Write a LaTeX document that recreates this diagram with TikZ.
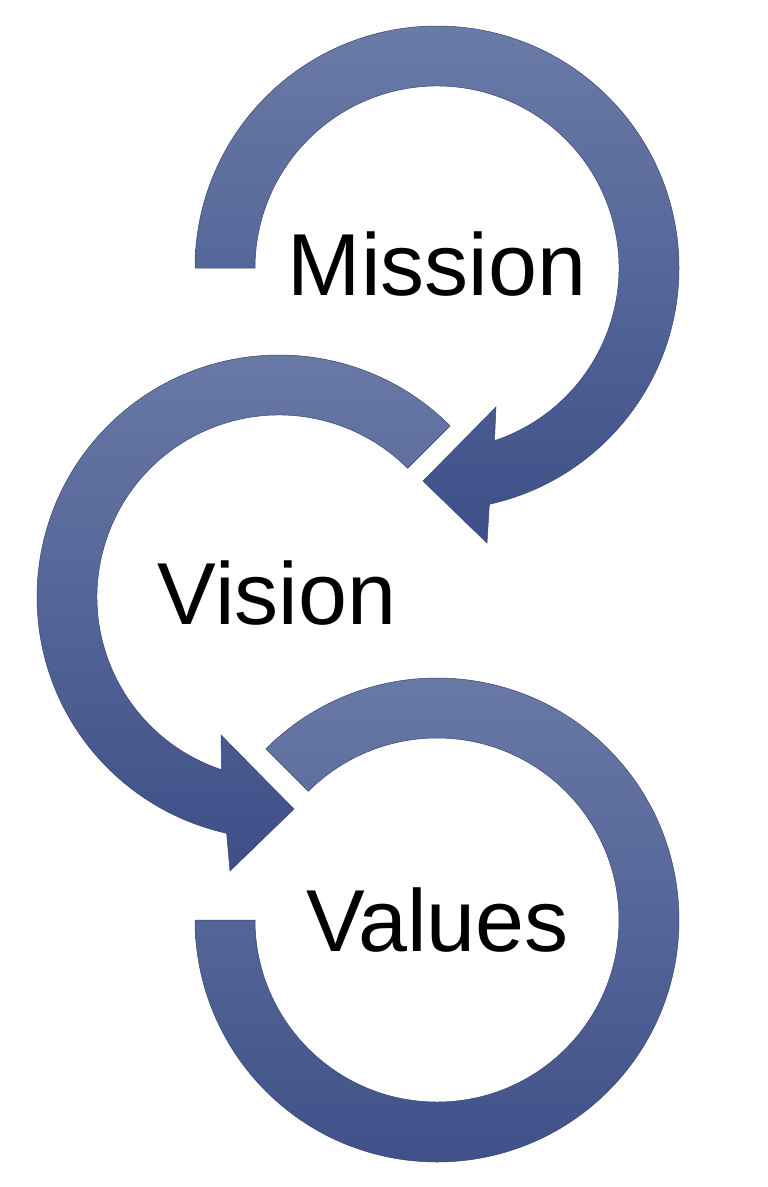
\documentclass[tikz,border=0pt]{standalone}
\usepackage{fontspec}
\setmainfont{Liberation Sans}
\usetikzlibrary{calc}
\definecolor{ringtop}{HTML}{6A7BA8}
\definecolor{ringbot}{HTML}{3E4F88}
\definecolor{ringedge}{HTML}{3A4670}
\begin{document}
\begin{tikzpicture}[x=1pt,y=1pt,
  ring/.style={top color=ringtop,bottom color=ringbot,draw=ringedge,line width=0.5pt,line join=miter},
  label/.style={anchor=base,inner sep=0pt,font=\fontsize{88}{88}\selectfont,text=black}]
\useasboundingbox[fill=white] (0,0) rectangle (768,-1187);
% centres
\coordinate (cM) at (437,-268);
\coordinate (cV) at (279,-597);
\coordinate (cW) at (437,-920);
% Mission ring with arrow head
\coordinate (mOb) at (487,-543);
\coordinate (mTip) at (423,-481);
\coordinate (mIb) at (496,-407);
\path[ring] ($(cM)+(180:242)$) arc[start angle=180,end angle=-77.5,radius=242]
  -- (mOb) -- (mTip) -- (mIb)
  -- ($(cM)+(-71.6:182)$) arc[start angle=-71.6,end angle=180,radius=182] -- cycle;
% Vision ring with arrow head
\coordinate (vOb) at (230,-871);
\coordinate (vTip) at (294,-809);
\coordinate (vIb) at (221,-735);
\path[ring] ($(cV)+(45:242)$) arc[start angle=45,end angle=257.5,radius=242]
  -- (vOb) -- (vTip) -- (vIb)
  -- ($(cV)+(251.6:182)$) arc[start angle=251.6,end angle=45,radius=182] -- cycle;
% Values ring
\path[ring] ($(cW)+(135:242)$) arc[start angle=135,end angle=-180,radius=242]
  -- ($(cW)+(-180:182)$) arc[start angle=-180,end angle=135,radius=182] -- cycle;
% labels
\node[label] (mission) at (437,-295) {Mission};
\node[label] (vision) at (277,-624) {Vision};
\node[label] (values) at (437.5,-951) {Values};
\end{tikzpicture}
\end{document}
